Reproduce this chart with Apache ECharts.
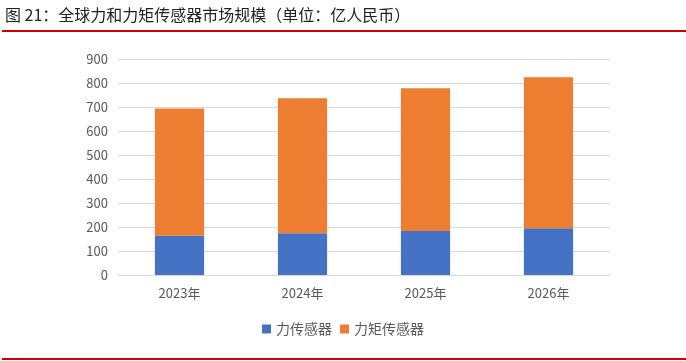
<!DOCTYPE html>
<html><head><meta charset="utf-8">
<script src="https://cdn.jsdelivr.net/npm/echarts@6/dist/echarts.min.js"></script>
<style>html,body{margin:0;padding:0;background:#fff}#c{width:686px;height:361px}</style>
</head><body><div id="c"></div>
<script>
const categories = ['2023年', '2024年', '2025年', '2026年'];
const forceSensor = [164, 174, 183, 195];
const torqueSensor = [530, 562, 595, 629];
const seriesNames = ['力传感器', '力矩传感器'];
const titleText = '图 21：全球力和力矩传感器市场规模（单位：亿人民币）';

const chart = echarts.init(document.getElementById('c'), null, {renderer: 'canvas'});
const font = '"Noto Sans CJK SC", "Noto Sans", sans-serif';
chart.setOption({
  animation: false,
  backgroundColor: '#fff',
  grid: {left: 118, right: 76, top: 59, bottom: 86, containLabel: false},
  legend: {
    data: seriesNames, bottom: 20, left: 'center', itemWidth: 9, itemHeight: 9,
    itemGap: 8, icon: 'rect',
    textStyle: {color: '#595959', fontSize: 14, fontFamily: font}
  },
  xAxis: {
    type: 'category', data: categories,
    axisLine: {lineStyle: {color: '#d9d9d9'}}, axisTick: {show: false},
    axisLabel: {color: '#595959', fontSize: 13, margin: 12, fontFamily: font}
  },
  yAxis: {
    type: 'value', min: 0, max: 900, interval: 100,
    axisLine: {show: false}, axisTick: {show: false},
    splitLine: {lineStyle: {color: '#d9d9d9'}},
    axisLabel: {color: '#595959', fontSize: 13, margin: 10, fontFamily: font}
  },
  series: [
    {name: seriesNames[0], type: 'bar', stack: 's', data: forceSensor, barWidth: '40%',
     itemStyle: {color: '#4472c4'}},
    {name: seriesNames[1], type: 'bar', stack: 's', data: torqueSensor, barWidth: '40%',
     itemStyle: {color: '#ed7d31'}}
  ],
  graphic: [
    {type: 'text', left: 5, top: 7, style: {text: titleText, fill: '#222', fontSize: 16, fontFamily: font}},
    {type: 'rect', shape: {x: 2, y: 30, width: 684, height: 2}, style: {fill: '#d40000'}},
    {type: 'rect', shape: {x: 2, y: 358, width: 684, height: 2}, style: {fill: '#d40000'}}
  ]
});
</script></body></html>
